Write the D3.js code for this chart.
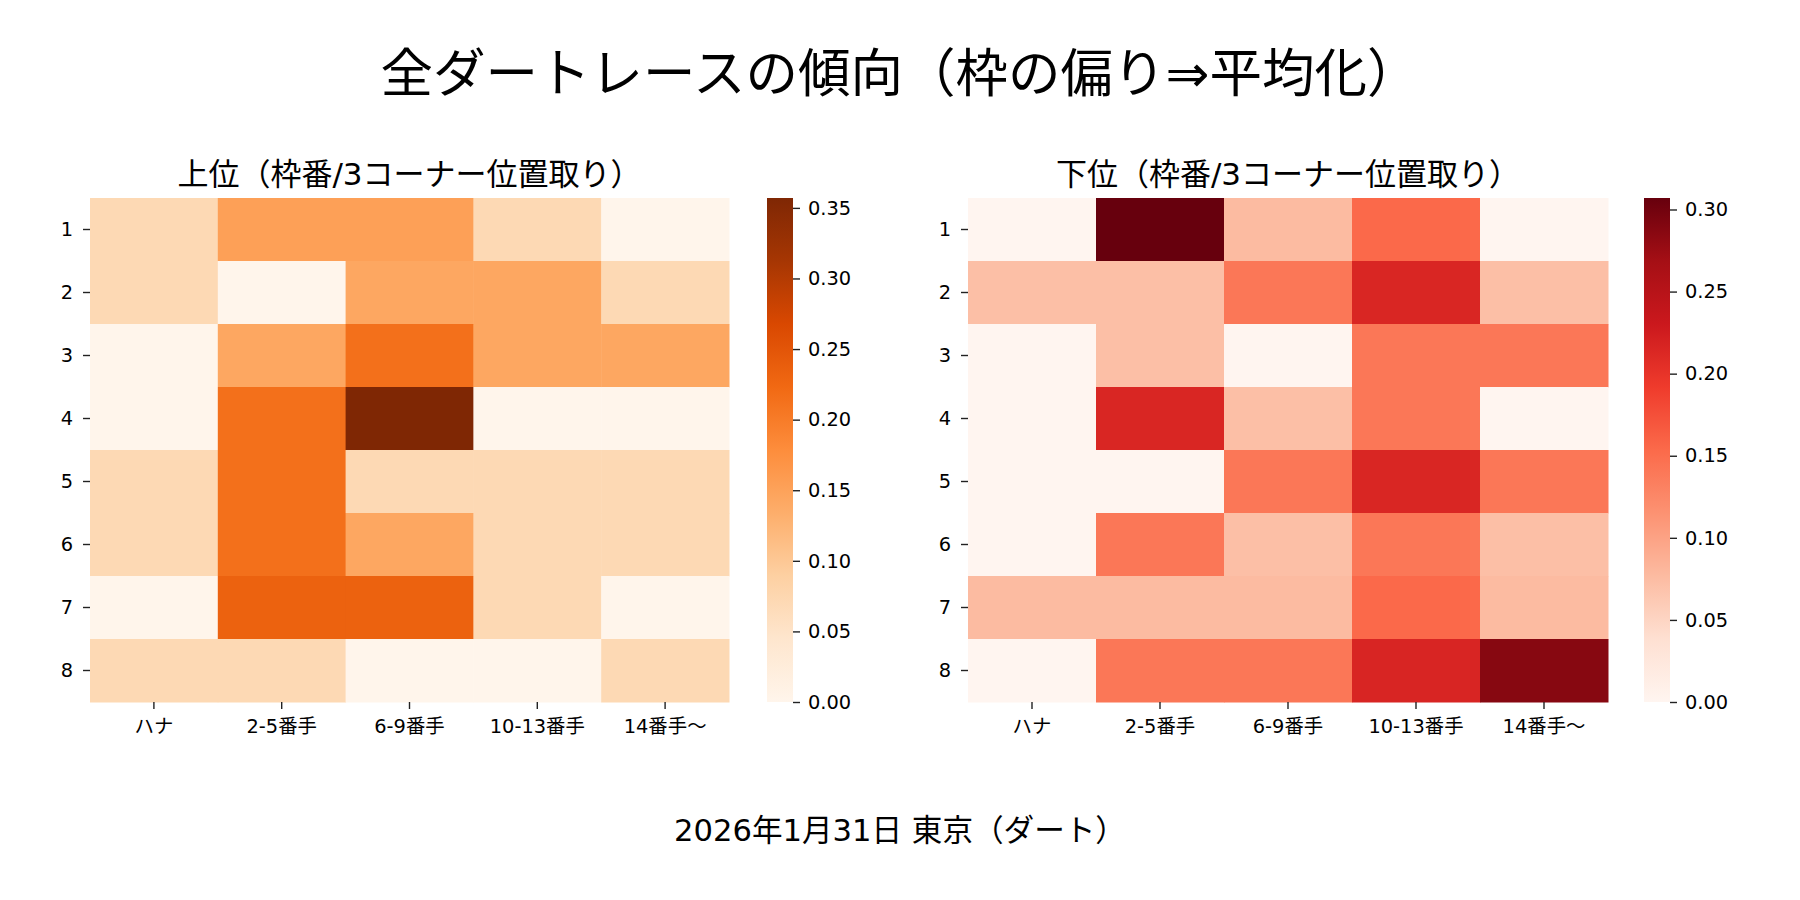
<!DOCTYPE html>
<html>
<head>
<meta charset="utf-8">
<script src="https://cdn.jsdelivr.net/npm/d3@7"></script>
<style>
  body { margin: 0; background: #fff; }
  text { font-family: "DejaVu Sans", "Noto Sans CJK JP", sans-serif; fill: #000; }
</style>
</head>
<body>
<div id="content"></div>
<script>
// rows = 枠番, columns = 3コーナー位置取り
var rowLabels = ['1', '2', '3', '4', '5', '6', '7', '8'];
var colLabels = ['ハナ', '2-5番手', '6-9番手', '10-13番手', '14番手〜'];

// 上位
var topValues = [
  [0.071, 0.153, 0.153, 0.071, 0.000],
  [0.071, 0.000, 0.143, 0.143, 0.071],
  [0.000, 0.143, 0.214, 0.143, 0.143],
  [0.000, 0.214, 0.357, 0.000, 0.000],
  [0.071, 0.214, 0.071, 0.071, 0.071],
  [0.071, 0.214, 0.143, 0.071, 0.071],
  [0.000, 0.232, 0.232, 0.071, 0.000],
  [0.071, 0.071, 0.000, 0.000, 0.071]
];

// 下位
var bottomValues = [
  [0.000, 0.307, 0.077, 0.154, 0.000],
  [0.073, 0.073, 0.141, 0.215, 0.073],
  [0.000, 0.073, 0.000, 0.141, 0.141],
  [0.000, 0.215, 0.073, 0.141, 0.000],
  [0.000, 0.000, 0.141, 0.215, 0.141],
  [0.000, 0.141, 0.073, 0.141, 0.073],
  [0.077, 0.077, 0.077, 0.154, 0.077],
  [0.000, 0.141, 0.141, 0.216, 0.287]
];

var topTicks = [0, 0.05, 0.10, 0.15, 0.20, 0.25, 0.30, 0.35];
var bottomTicks = [0, 0.05, 0.10, 0.15, 0.20, 0.25, 0.30];

var mainTitle = '全ダートレースの傾向（枠の偏り⇒平均化）';
var topTitle = '上位（枠番/3コーナー位置取り）';
var bottomTitle = '下位（枠番/3コーナー位置取り）';
var caption = '2026年1月31日 東京（ダート）';

// colorbrewer steps, same as matplotlib's Oranges / Reds
var orangesSteps = ['#fff5eb', '#fee6ce', '#fdd0a2', '#fdae6b', '#fd8d3c', '#f16913', '#d94801', '#a63603', '#7f2704'];
var redsSteps = ['#fff5f0', '#fee0d2', '#fcbba1', '#fc9272', '#fb6a4a', '#ef3b2c', '#cb181d', '#a50f15', '#67000d'];

var width = 1800,
    height = 900;

var svg = d3.select('#content')
  .append('svg')
  .attr('width', width)
  .attr('height', height);

svg.append('rect')
  .attr('width', width)
  .attr('height', height)
  .attr('fill', '#fff');

var defs = svg.append('defs');

// suptitle
svg.append('text')
  .attr('x', 900)
  .attr('y', 92)
  .attr('text-anchor', 'middle')
  .style('font-size', '52.5px')
  .text(mainTitle);

// bottom caption
svg.append('text')
  .attr('x', 900)
  .attr('y', 841)
  .attr('text-anchor', 'middle')
  .style('font-size', '30.6px')
  .text(caption);

function drawPanel(opts) {
  var values = opts.values;
  var vmax = d3.max(values, function(r) { return d3.max(r); });

  var color = d3.scaleLinear()
    .domain(opts.steps.map(function(c, i) { return i / (opts.steps.length - 1) * vmax; }))
    .range(opts.steps)
    .interpolate(d3.interpolateRgb);

  var x = d3.scaleBand().domain(colLabels).range([opts.left, opts.right]);
  var y = d3.scaleBand().domain(rowLabels).range([opts.top, opts.bottom]);

  var cells = [];
  values.forEach(function(row, i) {
    row.forEach(function(v, j) {
      cells.push({ row: rowLabels[i], col: colLabels[j], value: v });
    });
  });

  var g = svg.append('g');

  g.selectAll('rect.cell')
    .data(cells)
    .enter()
    .append('rect')
      .attr('class', 'cell')
      .attr('x', function(d) { return x(d.col); })
      .attr('y', function(d) { return y(d.row); })
      .attr('width', x.bandwidth() + 0.5)
      .attr('height', y.bandwidth() + 0.5)
      .attr('fill', function(d) { return color(d.value); });

  // panel title
  g.append('text')
    .attr('x', (opts.left + opts.right) / 2)
    .attr('y', opts.top - 13)
    .attr('text-anchor', 'middle')
    .style('font-size', '31px')
    .text(opts.title);

  // y axis (枠番)
  var yAxis = g.append('g')
    .attr('transform', 'translate(' + opts.left + ',0)')
    .call(d3.axisLeft(y).tickSize(7).tickPadding(10));
  yAxis.select('.domain').remove();

  // x axis (位置取り)
  var xAxis = g.append('g')
    .attr('transform', 'translate(0,' + opts.bottom + ')')
    .call(d3.axisBottom(x).tickSize(7).tickPadding(10));
  xAxis.select('.domain').remove();

  [yAxis, xAxis].forEach(function(a) {
    a.selectAll('text').style('font-size', '19.4px').attr('fill', '#000');
    a.selectAll('line').attr('stroke', '#222').attr('stroke-width', 1.4);
  });

  // colorbar
  var gradId = 'grad-' + opts.id;
  var grad = defs.append('linearGradient')
    .attr('id', gradId)
    .attr('x1', 0).attr('y1', 1)
    .attr('x2', 0).attr('y2', 0);
  grad.selectAll('stop')
    .data(color.domain())
    .enter()
    .append('stop')
      .attr('offset', function(d) { return d / vmax; })
      .attr('stop-color', function(d) { return color(d); });

  var cb = d3.scaleLinear().domain([0, vmax]).range([opts.bottom, opts.top]);

  g.append('rect')
    .attr('x', opts.cbLeft)
    .attr('y', opts.top)
    .attr('width', opts.cbWidth)
    .attr('height', opts.bottom - opts.top)
    .attr('fill', 'url(#' + gradId + ')');

  var cbAxis = g.append('g')
    .attr('transform', 'translate(' + (opts.cbLeft + opts.cbWidth) + ',0)')
    .call(d3.axisRight(cb).tickValues(opts.ticks).tickFormat(d3.format('.2f')).tickSize(7).tickPadding(8));
  cbAxis.select('.domain').remove();
  cbAxis.selectAll('text').style('font-size', '19.4px').attr('fill', '#000');
  cbAxis.selectAll('line').attr('stroke', '#222').attr('stroke-width', 1.4);
}

drawPanel({
  id: 'top', values: topValues, steps: orangesSteps, ticks: topTicks, title: topTitle,
  left: 90, right: 729, top: 198, bottom: 702, cbLeft: 767, cbWidth: 26
});

drawPanel({
  id: 'bottom', values: bottomValues, steps: redsSteps, ticks: bottomTicks, title: bottomTitle,
  left: 968, right: 1608, top: 198, bottom: 702, cbLeft: 1644, cbWidth: 26
});
</script>
</body>
</html>
